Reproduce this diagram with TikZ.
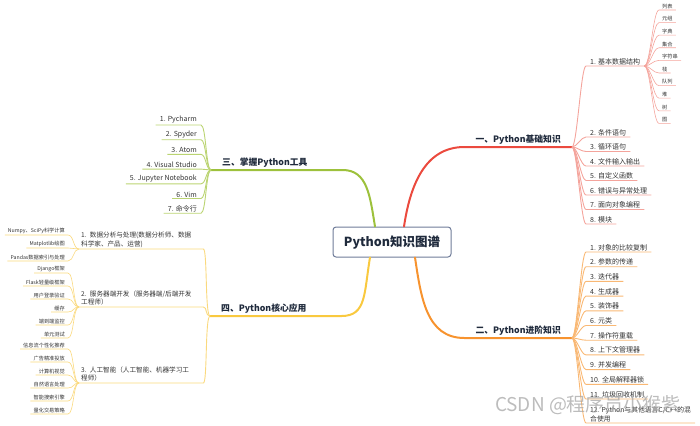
\documentclass[tikz,border=0pt]{standalone}
\usepackage{fontspec}
\setmainfont{Noto Sans CJK SC}
\definecolor{redbr}{HTML}{EB4A3E}
\definecolor{redlt}{HTML}{F4A49C}
\definecolor{orabr}{HTML}{F7932E}
\definecolor{oralt}{HTML}{F9B874}
\definecolor{grnbr}{HTML}{9DC13C}
\definecolor{grnlt}{HTML}{BBD472}
\definecolor{yelbr}{HTML}{F9C93F}
\definecolor{yellt}{HTML}{FAD97E}
\definecolor{rootline}{HTML}{6F7C99}
\definecolor{headtext}{HTML}{1F2A3C}
\definecolor{itemtext}{HTML}{333333}

\begin{document}
\begin{tikzpicture}[x=1pt, y=-1pt,
  root/.style={rectangle, rounded corners=3pt, draw=rootline, line width=1pt, fill=white, minimum width=118pt, minimum height=30pt, font=\fontsize{12.5}{14}\selectfont\bfseries, text=headtext},
  head/.style={inner xsep=11pt, inner ysep=2pt, font=\fontsize{8.8}{10}\selectfont\bfseries, text=headtext},
  item/.style={inner xsep=4pt, inner ysep=1.2pt, font=\fontsize{7}{9}\selectfont, text=itemtext},
  twoline/.style={item, font=\fontsize{6.6}{8.6}\selectfont, text width=120pt, align=left, inner xsep=2pt},
  leaf/.style={inner xsep=3pt, inner ysep=1pt, font=\fontsize{5.2}{6}\selectfont, text=itemtext},
  br/.style={line width=2pt, line cap=round},
  sub/.style={line width=0.9pt},
  tw/.style={line width=0.6pt},
  wmk/.style={font=\fontsize{19}{22}\selectfont, text=black!35, opacity=0.75},
]
\useasboundingbox (0,0) rectangle (700,425);

% centre and the four branch titles
\node[root] (py) at (392,242) {Python知识图谱};
\node[head, anchor=south east] (t1) at (572,147) {一、Python基础知识};
\node[head, anchor=south east] (t2) at (572,338) {二、Python进阶知识};
\node[head, anchor=south west] (t3) at (211,170) {三、掌握Python工具};
\node[head, anchor=south west] (t4) at (210,316) {四、Python核心应用};

\draw[br, redbr] ([xshift=12pt]py.north) .. controls +(6,-40) and +(-40,0) .. (t1.south west) -- (t1.south east);
\draw[br, orabr] ([xshift=23pt]py.south) .. controls +(6,40) and +(-38,0) .. (t2.south west) -- (t2.south east);
\draw[br, grnbr] ([xshift=-17pt]py.north) .. controls +(-5,-30) and +(25,0) .. ([xshift=24pt]t3.south east) -- (t3.south west);
\draw[br, yelbr] ([xshift=-22pt]py.south) .. controls +(-6,35) and +(25,0) .. ([xshift=24pt]t4.south east) -- (t4.south west);

% branch 1
\node[item, anchor=south west] (r1) at (586,66) {1. 基本数据结构};
\draw[sub, redlt] (t1.south east) .. controls +(5,0) and +(-5,0) .. (r1.south west) -- (r1.south east);
\foreach \i/\txt in {2/2. 条件语句, 3/3. 循环语句, 4/4. 文件输入输出, 5/5. 自定义函数, 6/6. 错误与异常处理, 7/7. 面向对象编程, 8/8. 模块} {
  \node[item, anchor=south west] (r\i) at (586, {137+14.5*(\i-2)}) {\txt};
  \draw[sub, redlt] (t1.south east) .. controls +(5,0) and +(-5,0) .. (r\i.south west) -- (r\i.south east);
}
\foreach \txt [count=\i] in {列表, 元组, 字典, 集合, 字符串, 栈, 队列, 堆, 树, 图} {
  \node[leaf, anchor=south west] (ds\i) at (659, {10+12.6*(\i-1)}) {\txt};
  \draw[tw, redlt] (r1.south east) .. controls +(6,0) and +(-6,0) .. (ds\i.south west) -- (ds\i.south east);
}

% branch 2
\foreach \txt [count=\i] in {1. 对象的比较复制, 2. 参数的传递, 3. 迭代器, 4. 生成器, 5. 装饰器, 6. 元类, 7. 操作符重载, 8. 上下文管理器, 9. 并发编程, 10. 全局解释器锁, 11. 垃圾回收机制} {
  \node[item, anchor=south west] (o\i) at (586, {252+14.7*(\i-1)}) {\txt};
  \draw[sub, oralt] (t2.south east) .. controls +(5,0) and +(-5,0) .. (o\i.south west) -- (o\i.south east);
}
\node[item, anchor=south west, align=left, font=\fontsize{6.8}{8.6}\selectfont] (o12) at (586,423) {12. Python与其他语言C/C++的混\\合使用};
\draw[sub, oralt] (t2.south east) .. controls +(5,0) and +(-5,0) .. (o12.south west) -- (o12.south east);

% branch 3
\foreach \txt [count=\i] in {1. Pycharm, 2. Spyder, 3. Atom, 4. Visual Studio, 5. Jupyter Notebook, 6. Vim, 7. 命令行} {
  \node[item, anchor=south east] (g\i) at (201, {125+14.7*(\i-1)}) {\txt};
  \draw[sub, grnlt] (t3.south west) .. controls +(-5,0) and +(5,0) .. (g\i.south east) -- (g\i.south west);
}

% branch 4
\node[twoline, anchor=south west] (y1) at (79,249) {1. 数据分析与处理(数据分析师、数据\\科学家、产品、运营)};
\node[twoline, anchor=south west] (y2) at (79,307) {2. 服务器端开发（服务器端/后端开发\\工程师）};
\node[twoline, anchor=south west] (y3) at (79,383) {3. 人工智能（人工智能、机器学习工\\程师）};
\foreach \i in {1,2,3} {
  \draw[sub, yellt] (t4.south west) .. controls +(-5,0) and +(4,0) .. (y\i.south east) -- (y\i.south west);
}
\foreach \txt [count=\i] in {Numpy、SciPy科学计算, Matplotlib绘图, Pandas数据索引与处理} {
  \node[leaf, anchor=south east] (ana\i) at (68, {235+13*(\i-1)}) {\txt};
  \draw[tw, yellt] (y1.south west) .. controls +(-6,0) and +(6,0) .. (ana\i.south east) -- (ana\i.south west);
}
\foreach \txt [count=\i] in {Django框架, Flask轻量级框架, 用户登录验证, 缓存, 端到端监控, 单元测试} {
  \node[leaf, anchor=south east] (srv\i) at (68, {273+13*(\i-1)}) {\txt};
  \draw[tw, yellt] (y2.south west) .. controls +(-6,0) and +(6,0) .. (srv\i.south east) -- (srv\i.south west);
}
\foreach \txt [count=\i] in {信息流个性化推荐, 广告精准投放, 计算机视觉, 自然语言处理, 智能搜索引擎, 量化交易策略} {
  \node[leaf, anchor=south east] (ai\i) at (68, {349+13*(\i-1)}) {\txt};
  \draw[tw, yellt] (y3.south west) .. controls +(-6,0) and +(6,0) .. (ai\i.south east) -- (ai\i.south west);
}

\node[wmk] (wm) at (588,405) {CSDN @程序员小猴紫};
\end{tikzpicture}
\end{document}
